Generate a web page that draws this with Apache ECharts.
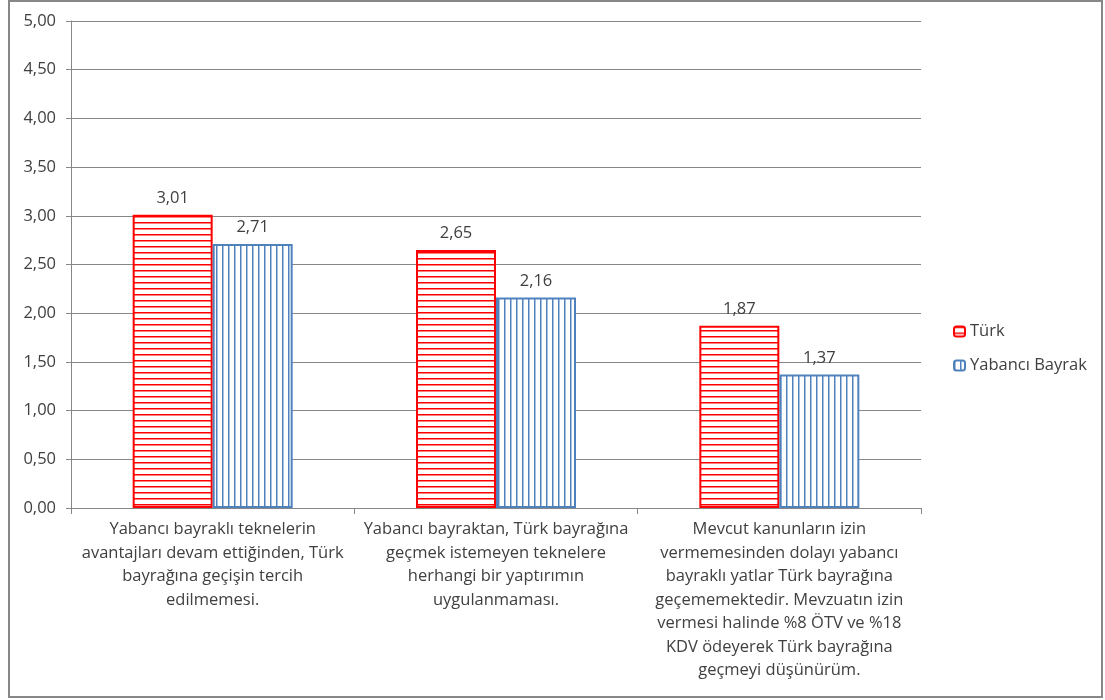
<!DOCTYPE html>
<html>
<head>
<meta charset="utf-8">
<script src="https://cdn.jsdelivr.net/npm/echarts@6/dist/echarts.min.js"></script>
<style>
  html, body { margin: 0; padding: 0; background: #fff; }
  #chart { width: 1105px; height: 700px; }
</style>
</head>
<body>
<div id="chart"></div>
<script>
// kategori etiketleri (satır satır)
const categories = [
  'Yabancı bayraklı teknelerin\navantajları devam ettiğinden, Türk\nbayrağına geçişin tercih\nedilmemesi.',
  'Yabancı bayraktan, Türk bayrağına\ngeçmek istemeyen teknelere\nherhangi bir yaptırımın\nuygulanmaması.',
  'Mevcut kanunların izin\nvermemesinden dolayı yabancı\nbayraklı yatlar Türk bayrağına\ngeçememektedir. Mevzuatın izin\nvermesi halinde %8 ÖTV ve %18\nKDV ödeyerek Türk bayrağına\ngeçmeyi düşünürüm.'
]
const turkValues = [3.01, 2.65, 1.87]
const yabanciValues = [2.71, 2.16, 1.37]
const seriesNames = ['Türk', 'Yabancı Bayrak']

const fmt = (v) => Number(v).toFixed(2).replace('.', ',')

// desen dolgular
const makePattern = (dir, color) => {
  const c = document.createElement('canvas')
  c.width = 6
  c.height = 6
  const ctx = c.getContext('2d')
  ctx.fillStyle = '#fff'
  ctx.fillRect(0, 0, 6, 6)
  ctx.fillStyle = color
  if (dir === 'h') {
    ctx.fillRect(0, 0, 6, 1.5)
  } else {
    ctx.fillRect(0, 0, 1.5, 6)
  }
  return c
}

const textColor = '#404040'
const font = '"Open Sans", sans-serif'
const fs = 16.5

const chart = echarts.init(document.getElementById('chart'))
chart.setOption({
  animation: false,
  textStyle: { fontFamily: font },
  graphic: [{
    type: 'rect',
    shape: { x: 9, y: 1, width: 1093, height: 696 },
    style: { fill: 'none', stroke: '#878787', lineWidth: 2 },
    silent: true
  }],
  grid: { left: 71, right: 184, top: 21, bottom: 192 },
  legend: {
    orient: 'vertical',
    left: 948,
    top: 318,
    itemWidth: 11,
    itemHeight: 10,
    itemGap: 17,
    textStyle: { fontSize: fs, color: textColor, fontFamily: font },
    data: seriesNames
  },
  xAxis: {
    type: 'category',
    data: categories,
    axisLine: { lineStyle: { color: '#878787', width: 1 } },
    axisTick: { show: true, length: 6, lineStyle: { color: '#878787' } },
    axisLabel: {
      interval: 0,
      margin: 10,
      fontSize: fs,
      lineHeight: 23.5,
      color: textColor,
      align: 'center'
    }
  },
  yAxis: {
    type: 'value',
    min: 0,
    max: 5,
    interval: 0.5,
    axisLine: { show: true, lineStyle: { color: '#878787' } },
    axisTick: { show: true, length: 5, lineStyle: { color: '#878787' } },
    axisLabel: { fontSize: fs, color: textColor, margin: 15, formatter: fmt },
    splitLine: { lineStyle: { color: '#878787' } }
  },
  series: [
    {
      name: seriesNames[0],
      type: 'bar',
      data: turkValues,
      barWidth: 80,
      barGap: '0%',
      itemStyle: {
        color: { image: makePattern('h', '#ff0000'), repeat: 'repeat' },
        borderColor: '#ff0000',
        borderWidth: 2
      },
      label: { show: true, position: 'top', distance: 8, fontSize: fs, color: textColor, formatter: (p) => fmt(p.value) }
    },
    {
      name: seriesNames[1],
      type: 'bar',
      data: yabanciValues,
      barWidth: 80,
      itemStyle: {
        color: { image: makePattern('v', '#4f81bd'), repeat: 'repeat' },
        borderColor: '#4f81bd',
        borderWidth: 2
      },
      label: { show: true, position: 'top', distance: 8, fontSize: fs, color: textColor, formatter: (p) => fmt(p.value) }
    }
  ]
})
</script>
</body>
</html>
